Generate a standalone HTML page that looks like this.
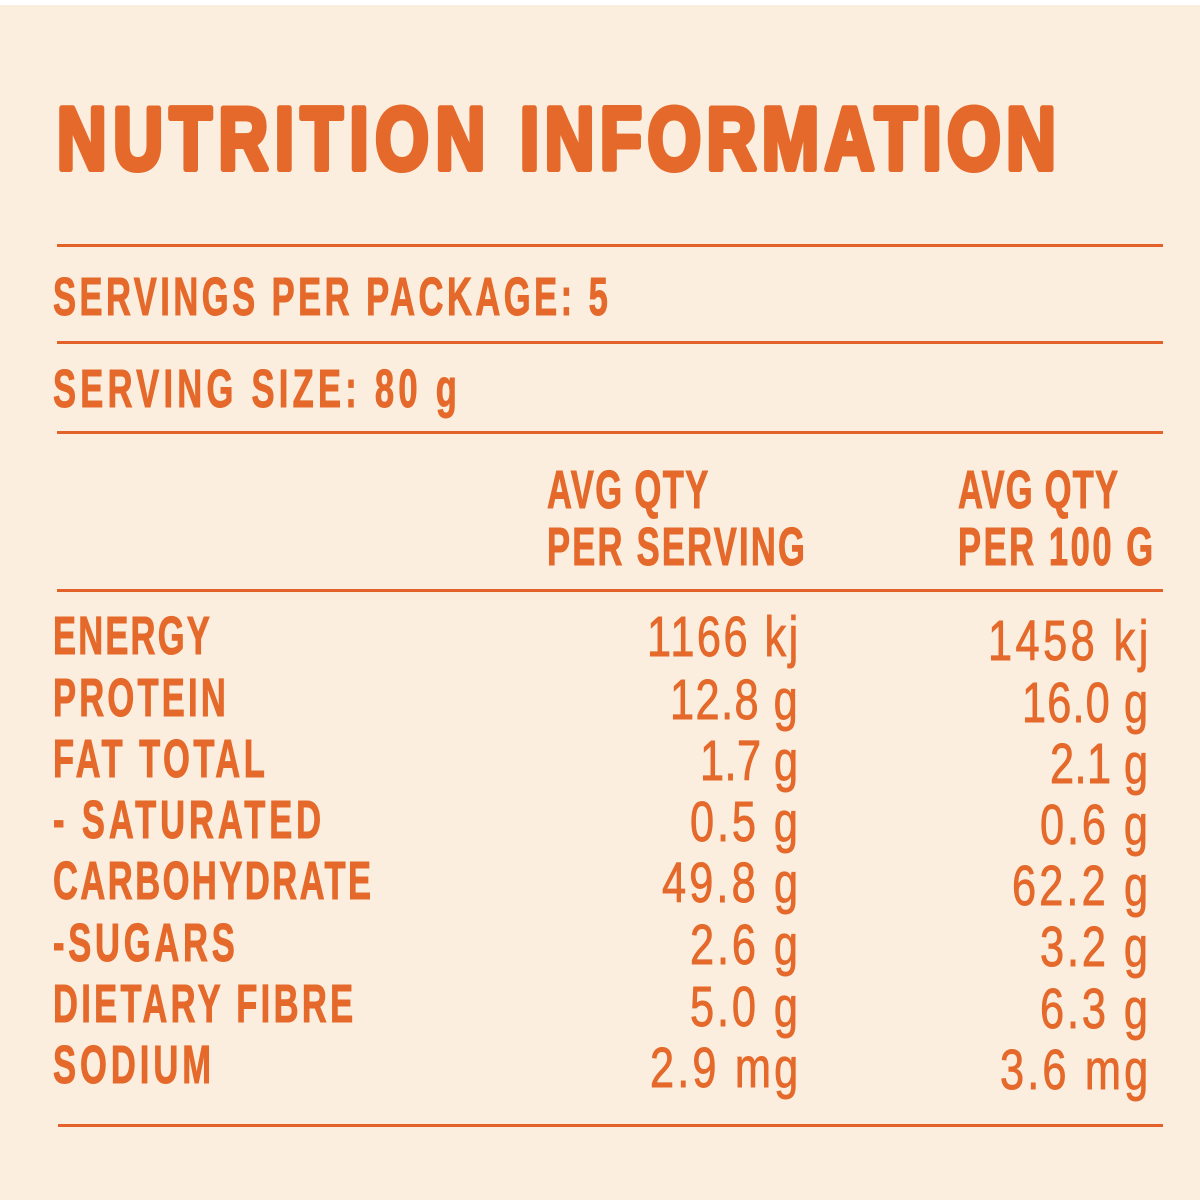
<!DOCTYPE html>
<html>
<head>
<meta charset="utf-8">
<style>
  html,body{margin:0;padding:0;background:#FBEEDF;}
  svg{display:block;}
</style>
</head>
<body>
<svg width="1200" height="1200" viewBox="0 0 1200 1200" xmlns="http://www.w3.org/2000/svg">
  <rect x="0" y="0" width="1200" height="1200" fill="#FBEEDF"/>
  <rect x="0" y="0" width="1200" height="5" fill="#FFFFFF"/>

  <!-- Title -->
  <g font-family="Liberation Sans, sans-serif" font-weight="bold" fill="#E4692A" stroke="#E4692A" stroke-width="6" stroke-linejoin="round" font-size="88">
    <text transform="translate(57 169) scale(0.78 1)" x="0" y="0" textLength="549" lengthAdjust="spacing">NUTRITION</text>
    <text transform="translate(520 169) scale(0.78 1)" x="0" y="0" textLength="687" lengthAdjust="spacing">INFORMATION</text>
  </g>

  <!-- Rules -->
  <g fill="#E2622A">
    <rect x="57" y="244" width="1106" height="3"/>
    <rect x="57" y="341" width="1106" height="3"/>
    <rect x="57" y="431" width="1106" height="3"/>
    <rect x="57" y="589" width="1106" height="3"/>
    <rect x="58" y="1124" width="1105" height="3"/>
  </g>

  <!-- Serving info + headers -->
  <g font-family="Liberation Sans, sans-serif" font-weight="bold" fill="#E4692A" stroke="#E4692A" stroke-width="1" font-size="54">
    <text transform="translate(53 315) scale(0.64 1)" x="0" y="0" textLength="867" lengthAdjust="spacing">SERVINGS PER PACKAGE: 5</text>
    <text transform="translate(53 407) scale(0.64 1)" x="0" y="0" textLength="631" lengthAdjust="spacing">SERVING SIZE: 80 g</text>

    <text transform="translate(547 508) scale(0.64 1)" x="0" y="0" textLength="252" lengthAdjust="spacing">AVG QTY</text>
    <text transform="translate(547 565) scale(0.64 1)" x="0" y="0" textLength="403" lengthAdjust="spacing">PER SERVING</text>
    <text transform="translate(958 508) scale(0.64 1)" x="0" y="0" textLength="250" lengthAdjust="spacing">AVG QTY</text>
    <text transform="translate(958 565) scale(0.64 1)" x="0" y="0" textLength="305" lengthAdjust="spacing">PER 100 G</text>
  </g>

  <!-- Labels -->
  <g font-family="Liberation Sans, sans-serif" font-weight="bold" fill="#E4692A" stroke="#E4692A" stroke-width="1" font-size="54">
    <text transform="translate(53 654) scale(0.64 1)" x="0" y="0" textLength="245" lengthAdjust="spacing">ENERGY</text>
    <text transform="translate(53 716) scale(0.64 1)" x="0" y="0" textLength="270" lengthAdjust="spacing">PROTEIN</text>
    <text transform="translate(53 777) scale(0.64 1)" x="0" y="0" textLength="331" lengthAdjust="spacing">FAT TOTAL</text>
    <text transform="translate(53 838) scale(0.64 1)" x="0" y="0" textLength="419" lengthAdjust="spacing">- SATURATED</text>
    <text transform="translate(53 899) scale(0.64 1)" x="0" y="0" textLength="497" lengthAdjust="spacing">CARBOHYDRATE</text>
    <text transform="translate(53 961) scale(0.64 1)" x="0" y="0" textLength="284" lengthAdjust="spacing">-SUGARS</text>
    <text transform="translate(53 1022) scale(0.64 1)" x="0" y="0" textLength="469" lengthAdjust="spacing">DIETARY FIBRE</text>
    <text transform="translate(53 1083) scale(0.64 1)" x="0" y="0" textLength="247" lengthAdjust="spacing">SODIUM</text>
  </g>

  <!-- Values column 1 -->
  <g font-family="Liberation Sans, sans-serif" fill="#E4692A" stroke="#E4692A" stroke-width="0.9" font-size="57">
    <text transform="translate(647 656) scale(0.76 1)" x="0" y="0" textLength="199" lengthAdjust="spacing">1166 kj</text>
    <text transform="translate(670 719) scale(0.76 1)" x="0" y="0" textLength="168" lengthAdjust="spacing">12.8 g</text>
    <text transform="translate(700 780) scale(0.76 1)" x="0" y="0" textLength="129" lengthAdjust="spacing">1.7 g</text>
    <text transform="translate(690 841) scale(0.76 1)" x="0" y="0" textLength="142" lengthAdjust="spacing">0.5 g</text>
    <text transform="translate(662 902) scale(0.76 1)" x="0" y="0" textLength="179" lengthAdjust="spacing">49.8 g</text>
    <text transform="translate(690 964) scale(0.76 1)" x="0" y="0" textLength="142" lengthAdjust="spacing">2.6 g</text>
    <text transform="translate(690 1026) scale(0.76 1)" x="0" y="0" textLength="142" lengthAdjust="spacing">5.0 g</text>
    <text transform="translate(650 1087) scale(0.76 1)" x="0" y="0" textLength="195" lengthAdjust="spacing">2.9 mg</text>
  </g>

  <!-- Values column 2 -->
  <g font-family="Liberation Sans, sans-serif" fill="#E4692A" stroke="#E4692A" stroke-width="0.9" font-size="57">
    <text transform="translate(988 660) scale(0.76 1)" x="0" y="0" textLength="211" lengthAdjust="spacing">1458 kj</text>
    <text transform="translate(1022 722) scale(0.76 1)" x="0" y="0" textLength="166" lengthAdjust="spacing">16.0 g</text>
    <text transform="translate(1050 783) scale(0.76 1)" x="0" y="0" textLength="129" lengthAdjust="spacing">2.1 g</text>
    <text transform="translate(1040 844) scale(0.76 1)" x="0" y="0" textLength="142" lengthAdjust="spacing">0.6 g</text>
    <text transform="translate(1012 905) scale(0.76 1)" x="0" y="0" textLength="179" lengthAdjust="spacing">62.2 g</text>
    <text transform="translate(1040 966) scale(0.76 1)" x="0" y="0" textLength="142" lengthAdjust="spacing">3.2 g</text>
    <text transform="translate(1040 1028) scale(0.76 1)" x="0" y="0" textLength="142" lengthAdjust="spacing">6.3 g</text>
    <text transform="translate(1000 1089) scale(0.76 1)" x="0" y="0" textLength="195" lengthAdjust="spacing">3.6 mg</text>
  </g>
</svg>
</body>
</html>
